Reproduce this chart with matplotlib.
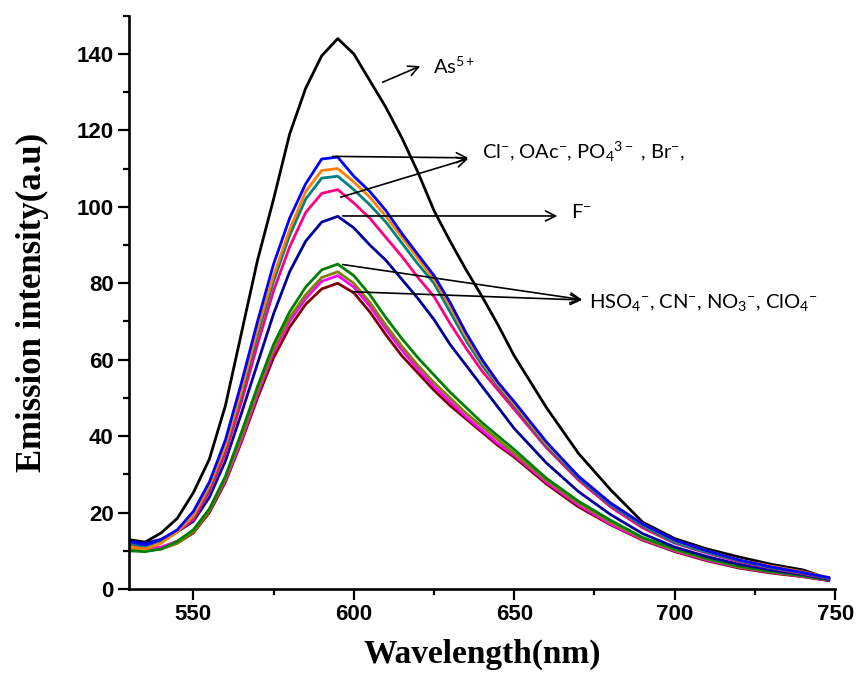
import numpy as np
import matplotlib.pyplot as plt

plt.rcParams['mathtext.fontset'] = 'custom'
plt.rcParams['mathtext.rm'] = 'Lato'
plt.rcParams['mathtext.it'] = 'Lato:italic'

# wavelength grid (nm)
wl = [530, 535, 540, 545, 550, 555, 560, 565, 570, 575, 580, 585, 590, 595,
      600, 605, 610, 615, 620, 625, 630, 635, 640, 645, 650, 660, 670, 680,
      690, 700, 710, 720, 730, 740, 748]

# emission intensities
as5 = [12.9, 12.3, 14.7, 18.5, 25.2, 34, 48, 67, 86, 102, 119, 131, 139.5, 144,
       140, 133, 126, 118, 109, 99, 91, 83.5, 76.5, 69, 61, 47.5, 35.5, 26,
       17.5, 13.2, 10.5, 8.4, 6.5, 5, 2.7]
cl = [12.5, 11.5, 13, 15.5, 20.3, 28, 39, 54, 70, 85, 97, 106, 112.5, 113,
      108, 104, 99, 93, 87.5, 82, 75, 67, 60, 54, 49, 38.5, 29.5, 22.5,
      17, 12.8, 10, 7.6, 5.8, 4.3, 3]
oac = [11, 10.5, 12, 15, 19.2, 27, 37.5, 52, 68, 82, 94, 104, 109.5, 110,
       106.5, 102.5, 97.5, 92, 86.5, 81, 74, 66, 59.5, 53.5, 48.5, 38, 29.5, 22.5,
       17, 12.7, 10, 7.6, 6, 4.5, 3]
po4 = [12, 11, 12.5, 15, 19, 26.5, 37, 51, 66.5, 80.5, 92.5, 102, 107.5, 108,
       104.5, 100.5, 96, 90.5, 85, 80, 72.5, 65, 58.5, 53, 48, 37.5, 29, 22,
       16.5, 12.2, 9.6, 7.4, 5.6, 4.2, 2.8]
br = [11.5, 11, 12.5, 15, 18.2, 25.5, 35.5, 49, 64, 78, 89.5, 98.5, 103.5, 104.5,
      101, 97, 92, 87, 81.5, 76.5, 69.5, 63, 57, 52, 47, 37, 28.5, 21.5,
      16, 12, 9.4, 7.2, 5.5, 4, 2.8]
f = [12.5, 12, 13, 15, 17.7, 24, 33.5, 46, 59, 72, 83, 91, 96, 97.5,
     94.5, 90, 86, 81, 76, 70.5, 64, 58.5, 53, 47.5, 42, 33, 25.5, 19.5,
     14.5, 11, 8.5, 6.5, 5, 3.8, 2.5]
hso4 = [10, 9.8, 10.5, 12.5, 15.5, 21, 29.5, 41, 53, 64, 72.5, 79, 83.5, 85,
        82, 77, 71, 65.5, 60.5, 56, 51.5, 47.5, 43.5, 40, 36.5, 29, 23, 18,
        13.5, 10.5, 8, 6, 4.6, 3.5, 2.4]
cn = [10.5, 10, 10.5, 12, 15, 20.5, 29, 40, 52, 63, 71, 77, 81.5, 83,
      80, 75, 69, 63.5, 58.5, 54, 50, 46, 42.5, 39, 35.5, 28.5, 22.5, 17.5,
      13.2, 10.2, 7.8, 5.8, 4.5, 3.4, 2.4]
no3 = [11, 10.5, 11, 12.5, 15, 20.5, 28.5, 39, 51, 62, 70, 76, 80.5, 82,
       79, 74, 68, 62.5, 57.5, 53, 49, 45, 41.5, 38, 35, 28, 22, 17,
       13, 10, 7.6, 5.7, 4.4, 3.3, 2.3]
clo4 = [10.3, 10, 10.5, 12, 14.7, 20, 28, 38.5, 50, 60.5, 68.5, 74.5, 78.5, 80,
        77.5, 72.5, 66.5, 61, 56.5, 52, 48, 44.5, 41, 37.5, 34.5, 27.5, 21.5, 16.8,
        12.8, 9.8, 7.4, 5.5, 4.2, 3.2, 2.2]

fig = plt.figure(figsize=(8.61, 6.81), dpi=100)
ax = fig.add_axes([0.150, 0.135, 0.820, 0.842])

lw = 2.0
ax.plot(wl, as5, color="black", lw=lw)
ax.plot(wl, clo4, color="#800000", lw=lw)
ax.plot(wl, no3, color="#ff00ff", lw=lw)
ax.plot(wl, cn, color="#808000", lw=lw)
ax.plot(wl, hso4, color="#008000", lw=lw)
ax.plot(wl, f, color="#000099", lw=lw)
ax.plot(wl, br, color="#ff0080", lw=lw)
ax.plot(wl, po4, color="#008080", lw=lw)
ax.plot(wl, oac, color="#ff8000", lw=lw)
ax.plot(wl, cl, color="#0000ff", lw=lw)

ax.set_xlim(530, 750)
ax.set_ylim(0, 150)
ax.set_xticks([550, 600, 650, 700, 750])
ax.set_xticks([575, 625, 675, 725], minor=True)
ax.set_yticks(np.arange(0, 141, 20))
ax.set_yticks(np.arange(10, 151, 20), minor=True)

for s in ["top", "right"]:
    ax.spines[s].set_visible(False)
for s in ["left", "bottom"]:
    ax.spines[s].set_linewidth(1.9)
ax.tick_params(which="major", direction="out", length=8, width=1.6, pad=3)
ax.tick_params(which="minor", direction="out", length=4.5, width=1.6)
for lab in ax.get_xticklabels() + ax.get_yticklabels():
    lab.set_fontfamily("Liberation Sans")
    lab.set_fontweight("bold")
    lab.set_fontsize(16)

ax.set_xlabel("Wavelength(nm)", family="Liberation Serif", weight="bold",
              fontsize=24, labelpad=10)
ax.set_ylabel("Emission intensity(a.u)", family="Liberation Serif", weight="bold",
              fontsize=25, labelpad=20)

arr = dict(arrowstyle="->", color="black", lw=1.2, mutation_scale=18)
tfs = 14.5
ax.annotate("", xy=(621.5, 137.1), xytext=(608.2, 132.3), arrowprops=arr)
ax.text(624.7, 136.8, "As$^{5+}$", fontsize=tfs, family="Lato", va="center")

ax.annotate("", xy=(636.5, 112.8), xytext=(592.6, 113.2), arrowprops=arr)
ax.annotate("", xy=(636.5, 112.8), xytext=(595.1, 102.3), arrowprops=arr)
ax.text(640, 114.4, "Cl$^{-}$, OAc$^{-}$, PO$_{4}$$^{3-}$ , Br$^{-}$,",
        fontsize=tfs, family="Lato", va="center")

ax.annotate("", xy=(664.3, 97.6), xytext=(595.7, 97.6), arrowprops=arr)
ax.text(667.6, 98.6, "F$^{-}$", fontsize=tfs, family="Lato", va="center")

ax.annotate("", xy=(672, 75.6), xytext=(595.7, 85), arrowprops=arr)
ax.annotate("", xy=(672, 75.6), xytext=(598.8, 77.8), arrowprops=arr)
ax.text(673.4, 75, "HSO$_{4}$$^{-}$, CN$^{-}$, NO$_{3}$$^{-}$, ClO$_{4}$$^{-}$",
        fontsize=tfs, family="Lato", va="center")

fig.savefig("out.png", dpi=100)
